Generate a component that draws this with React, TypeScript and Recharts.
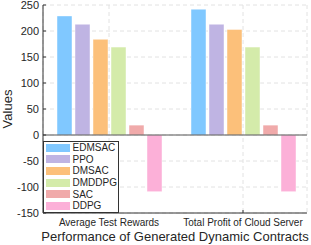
import React from 'react';
import { BarChart, Bar, XAxis, YAxis, CartesianGrid, ReferenceLine, Legend } from 'recharts';

const categories = ['Average Test Rewards', 'Total Profit of Cloud Server'];
const seriesNames = ['EDMSAC', 'PPO', 'DMSAC', 'DMDDPG', 'SAC', 'DDPG'];
const edmsac = [229, 242];
const ppo = [213, 213];
const dmsac = [184, 203];
const dmddpg = [169, 169];
const sac = [19, 19];
const ddpg = [-109, -109];
const seriesColors = ['#80c8ff', '#bfb4e3', '#fcc07a', '#d4ebaa', '#f0aaaa', '#fcb0d8'];
const yTicks = [-150, -100, -50, 0, 50, 100, 150, 200, 250];

const seriesValues = [edmsac, ppo, dmsac, dmddpg, sac, ddpg];
const data = categories.map((c, i) => {
  const row: Record<string, any> = { cat: c };
  seriesNames.forEach((n, k) => {
    row[n] = seriesValues[k][i];
  });
  return row;
});

const FONT = '"Liberation Sans", Arial, Helvetica, sans-serif';
const AXIS = '#333333';
const TEXT = '#262626';

const LegendBox = () => (
  <div
    style={{
      border: '1px solid #333',
      background: '#fff',
      width: 74,
      fontFamily: FONT,
      fontSize: 10,
      color: TEXT,
      boxSizing: 'content-box',
    }}
  >
    {seriesNames.map((n, i) => (
      <div key={n} style={{ display: 'flex', alignItems: 'center', height: 11.6 }}>
        <div style={{ width: 24, height: 8, marginLeft: 2, marginRight: 2.5, background: seriesColors[i] }} />
        <span style={{ lineHeight: '11px' }}>{n}</span>
      </div>
    ))}
  </div>
);

export default function App() {
  return (
    <div style={{ position: 'absolute', left: 0, top: 0, width: 311, height: 245, background: '#fff' }}>
      <BarChart
        width={311}
        height={245}
        data={data}
        margin={{ top: 5, right: 4, left: 8, bottom: 0 }}
        barSize={15}
        barGap={3}
      >
        <CartesianGrid stroke="#e2e2e2" strokeDasharray="4 3" />
        <XAxis
          dataKey="cat"
          height={32}
          padding={{ left: -1, right: -3 }}
          tickSize={-3}
          tickMargin={9}
          stroke={AXIS}
          tick={{ fontSize: 10, fill: TEXT, fontFamily: FONT }}
          interval={0}
          label={{
            value: 'Performance of Generated Dynamic Contracts',
            position: 'insideBottom',
            offset: 4,
            fontSize: 13,
            fill: TEXT,
            fontFamily: FONT,
          }}
        />
        <XAxis
          dataKey="cat"
          xAxisId="top"
          orientation="top"
          height={0}
          padding={{ left: -1, right: -3 }}
          tickSize={-3}
          stroke={AXIS}
          tickFormatter={() => ''}
          interval={0}
        />
        <YAxis
          width={35}
          domain={[-150, 250]}
          ticks={yTicks}
          interval={0}
          tickSize={-3}
          tickMargin={7}
          stroke={AXIS}
          tick={{ fontSize: 11, fill: TEXT, fontFamily: FONT }}
          label={{
            value: 'Values',
            angle: -90,
            position: 'insideLeft',
            offset: -1,
            textAnchor: 'middle',
            fontSize: 13,
            fill: TEXT,
            fontFamily: FONT,
          }}
        />
        <YAxis
          yAxisId="right"
          orientation="right"
          width={0}
          domain={[-150, 250]}
          ticks={yTicks}
          interval={0}
          tickSize={-3}
          stroke={AXIS}
          tickFormatter={() => ''}
        />
        {seriesNames.map((n, i) => (
          <Bar
            key={n}
            dataKey={n}
            fill={seriesColors[i]}
            stroke="#ffffff"
            strokeOpacity={0.45}
            strokeWidth={1}
            isAnimationActive={false}
          />
        ))}
        <ReferenceLine y={0} stroke="#555" strokeWidth={1} />
        <Legend
          layout="vertical"
          align="center"
          verticalAlign="middle"
          wrapperStyle={{ left: 43, top: 141, width: 'auto', height: 'auto' }}
          content={() => <LegendBox />}
        />
      </BarChart>
    </div>
  );
}
